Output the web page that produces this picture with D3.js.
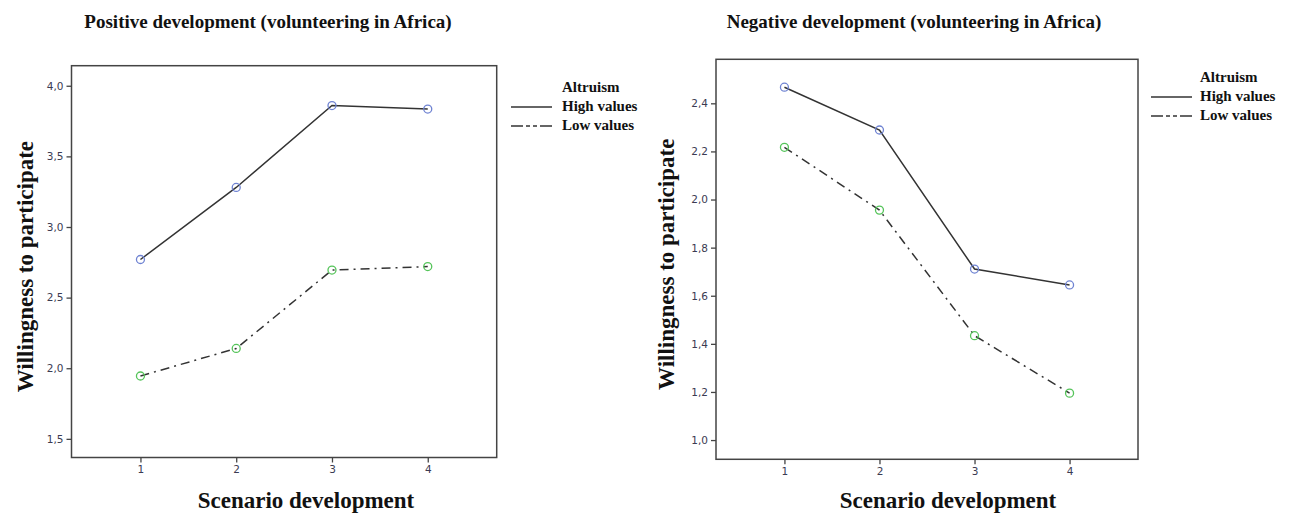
<!DOCTYPE html>
<html>
<head>
<meta charset="utf-8">
<script src="https://cdn.jsdelivr.net/npm/d3@7"></script>
<style>
  body { margin: 0; background: #fff; }
  .tick text { font-family: "DejaVu Sans", Verdana, sans-serif; font-size: 10.5px; fill: #3b3b52; }
  .serif { font-family: "Liberation Serif", "Times New Roman", serif; font-weight: bold; fill: #111; }
</style>
</head>
<body>
<div id="vis_canvas"></div>
<script>
var scenarios = [1, 2, 3, 4];
var seriesNames = ['High values', 'Low values'];

// positive development panel
var pos_high = [2.77, 3.28, 3.86, 3.835];
var pos_low = [1.945, 2.14, 2.695, 2.72];
var pos_ticks = [1.5, 2.0, 2.5, 3.0, 3.5, 4.0];

// negative development panel
var neg_high = [2.467, 2.289, 1.711, 1.645];
var neg_low = [2.217, 1.956, 1.434, 1.195];
var neg_ticks = [1.0, 1.2, 1.4, 1.6, 1.8, 2.0, 2.2, 2.4];

var W = 1295, H = 517;
var fmt = function (v) { return d3.format(".1f")(v).replace('.', ','); };
var markColor = {'High values': '#6f83d2', 'Low values': '#55c45a'};
var dash = {'High values': null, 'Low values': '9,5,2,5'};

var svg = d3.select("#vis_canvas").append("svg")
    .attr("width", W)
    .attr("height", H);

var panels = [
    {title: 'Positive development (volunteering in Africa)', high: pos_high, low: pos_low, ticks: pos_ticks,
     left: 71.5, right: 496.7, top: 65.7, bottom: 457.5, yDomain: [1.368, 4.142],
     titleX: 268, xLabelX: 306, yLabelX: 33, legendX: 562, legendY: 92, legendLineX: 511},
    {title: 'Negative development (volunteering in Africa)', high: neg_high, low: neg_low, ticks: neg_ticks,
     left: 716, right: 1138, top: 59.3, bottom: 459.3, yDomain: [0.92, 2.583],
     titleX: 914, xLabelX: 948, yLabelX: 674, legendX: 1200, legendY: 82, legendLineX: 1151}
];

panels.forEach(function (p) {
    var x = d3.scaleLinear().domain([0.28, 4.72]).range([p.left, p.right]);
    var y = d3.scaleLinear().domain(p.yDomain).range([p.bottom, p.top]);
    var g = svg.append("g");

    // title
    g.append("text")
        .attr("class", "serif")
        .attr("x", p.titleX)
        .attr("y", 28)
        .attr("text-anchor", "middle")
        .style("font-size", "19px")
        .text(p.title);

    // axes
    g.append("g")
        .attr("class", "x axis")
        .attr("transform", "translate(0," + p.bottom + ")")
        .call(d3.axisBottom(x).tickValues(scenarios).tickSize(5).tickSizeOuter(0).tickFormat(d3.format("d")))
        .call(function (a) { a.select(".domain").remove(); })
        .call(function (a) { a.selectAll("line").attr("stroke", "#444").attr("stroke-width", 1.3); });

    g.append("g")
        .attr("class", "y axis")
        .attr("transform", "translate(" + p.left + ",0)")
        .call(d3.axisLeft(y).tickValues(p.ticks).tickSize(5).tickSizeOuter(0).tickFormat(fmt))
        .call(function (a) { a.select(".domain").remove(); })
        .call(function (a) { a.selectAll("line").attr("stroke", "#444").attr("stroke-width", 1.3); });

    // frame
    g.append("rect")
        .attr("x", p.left)
        .attr("y", p.top)
        .attr("width", p.right - p.left)
        .attr("height", p.bottom - p.top)
        .attr("fill", "none")
        .attr("stroke", "#444")
        .attr("stroke-width", 1.5);

    // axis labels
    g.append("text")
        .attr("class", "serif")
        .attr("x", p.xLabelX)
        .attr("y", 508)
        .attr("text-anchor", "middle")
        .style("font-size", "23px")
        .text("Scenario development");

    g.append("text")
        .attr("class", "serif")
        .attr("transform", "translate(" + p.yLabelX + "," + ((p.top + p.bottom) / 2 + 5) + ") rotate(-90)")
        .attr("text-anchor", "middle")
        .style("font-size", "23px")
        .text("Willingness to participate");

    // lines and markers
    var line = d3.line()
        .x(function (d) { return x(d.s); })
        .y(function (d) { return y(d.v); });

    var series = [
        {name: 'High values', values: p.high},
        {name: 'Low values', values: p.low}
    ];

    series.forEach(function (s) {
        var pts = scenarios.map(function (sc, i) { return {s: sc, v: s.values[i]}; });
        g.append("path")
            .datum(pts)
            .attr("d", line)
            .attr("fill", "none")
            .attr("stroke", "#333")
            .attr("stroke-width", 1.5)
            .attr("stroke-dasharray", dash[s.name]);
        g.selectAll(null)
            .data(pts)
            .enter().append("circle")
            .attr("cx", function (d) { return x(d.s); })
            .attr("cy", function (d) { return y(d.v); })
            .attr("r", 4)
            .attr("fill", "none")
            .attr("stroke", markColor[s.name])
            .attr("stroke-width", 1.3);
    });

    // legend
    var lg = g.append("g");
    lg.append("text")
        .attr("class", "serif")
        .attr("x", p.legendX)
        .attr("y", p.legendY)
        .style("font-size", "15px")
        .text("Altruism");
    seriesNames.forEach(function (n, i) {
        var ly = p.legendY + 19 * (i + 1);
        lg.append("line")
            .attr("x1", p.legendLineX)
            .attr("x2", p.legendLineX + 41)
            .attr("y1", ly - 4)
            .attr("y2", ly - 4)
            .attr("stroke", "#333")
            .attr("stroke-width", 1.3)
            .attr("stroke-dasharray", i === 0 ? null : "12,3,4,3,4,3,12");
        lg.append("text")
            .attr("class", "serif")
            .attr("x", p.legendX)
            .attr("y", ly)
            .style("font-size", "15px")
            .text(n);
    });
});
</script>
</body>
</html>
